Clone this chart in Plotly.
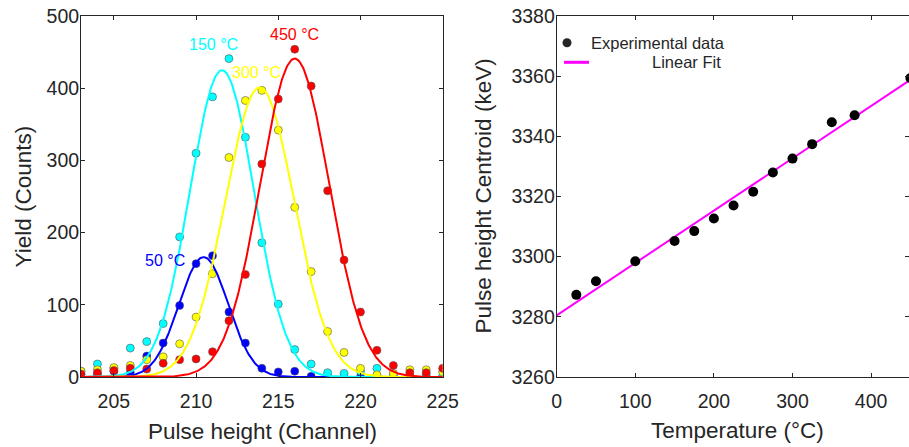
import numpy as np
import plotly.graph_objects as go

# ---------------- Left panel data ----------------
channels = list(range(203, 226))

counts_50C = [4, 4, 8, 6, 29, 47, 99, 157, 168, 90, 47, 12, 7, 8, 1, 1, 0, 0, 2, 1, 1, 0, 0]
counts_150C = [8, 18, 12, 40, 49, 74, 194, 310, 388, 441, 332, 186, 101, 38, 18, 6, 5, 8, 12, 4, 1, 3, 1]
counts_300C = [8, 10, 13, 16, 24, 28, 46, 83, 143, 304, 383, 397, 342, 235, 146, 63, 34, 12, 3, 5, 10, 10, 7]
counts_450C = [4, 6, 9, 12, 11, 19, 24, 25, 35, 78, 142, 295, 385, 454, 403, 258, 162, 90, 37, 16, 6, 6, 12]

# Gaussian fit parameters: (amplitude, centre, sigma)
fit_50C = (166, 210.46, 1.5)
fit_150C = (425, 211.58, 1.95)
fit_300C = (401, 213.87, 2.1)
fit_450C = (441, 216.0, 2.1)

series_labels = ["50 °C", "150 °C", "300 °C", "450 °C"]
series_colors = ["#0000FF", "#00FFFF", "#FFFF00", "#FF0000"]
label_pos_x = [208.1, 211.05, 213.7, 216.0]
label_pos_y = [162, 461, 422, 475]

# ---------------- Right panel data ----------------
temperature = [25, 50, 100, 150, 175, 200, 225, 250, 275, 300, 325, 350, 379, 450]
centroid = [3287.3, 3291.8, 3298.5, 3305.2, 3308.5, 3312.7, 3317.0, 3321.6,
            3328.0, 3332.6, 3337.4, 3344.7, 3347.0, 3359.4]
fit_intercept = 3280.5
fit_slope = 0.174

FONT = "Liberation Sans, Arial, sans-serif"
TXT = "#262626"

fig = go.Figure()

grid = np.linspace(203, 225, 400)
all_counts = [counts_50C, counts_150C, counts_300C, counts_450C]
all_fits = [fit_50C, fit_150C, fit_300C, fit_450C]

for cnt, col in zip(all_counts, series_colors):
    fig.add_trace(go.Scatter(
        x=channels, y=cnt, mode="markers",
        marker=dict(size=8, color=col, line=dict(color="#555555", width=0.6)),
        xaxis="x", yaxis="y", showlegend=False))
for fp, col in zip(all_fits, series_colors):
    a, mu, s = fp
    fig.add_trace(go.Scatter(
        x=grid, y=a * np.exp(-(grid - mu) ** 2 / (2 * s ** 2)), mode="lines",
        line=dict(color=col, width=2), xaxis="x", yaxis="y", showlegend=False))

# Right panel
tline = np.array([0, 460])
fig.add_trace(go.Scatter(
    x=tline, y=fit_intercept + fit_slope * tline, mode="lines",
    line=dict(color="#FF00FF", width=2), xaxis="x2", yaxis="y2", showlegend=False))
fig.add_trace(go.Scatter(
    x=temperature, y=centroid, mode="markers",
    marker=dict(size=10, color="#000000"), xaxis="x2", yaxis="y2", showlegend=False))

axis_common = dict(
    showgrid=False, zeroline=False, showline=True, linecolor=TXT, linewidth=1,
    mirror="ticks", ticks="inside", ticklen=4, tickcolor=TXT, tickwidth=1,
    tickfont=dict(family=FONT, size=19.5, color=TXT), automargin=False,
)

fig.update_layout(
    width=909, height=447,
    margin=dict(l=0, r=0, t=0, b=0, autoexpand=False),
    paper_bgcolor="white", plot_bgcolor="white",
    font=dict(family=FONT, color=TXT),
    xaxis=dict(domain=[0.0891, 0.4870], range=[203, 225],
               tickvals=[205, 210, 215, 220, 225], anchor="y",
               ticklabelstandoff=7, **axis_common),
    yaxis=dict(domain=[0.1566, 0.9642], range=[0, 500],
               tickvals=[0, 100, 200, 300, 400, 500], anchor="x",
               ticklabelstandoff=-3, **axis_common),
    xaxis2=dict(domain=[0.6124, 1.0], range=[0, 448.2],
                tickvals=[0, 100, 200, 300, 400], anchor="y2",
                ticklabelstandoff=7, **axis_common),
    yaxis2=dict(domain=[0.1566, 0.9642], range=[3260, 3380],
                tickvals=[3260, 3280, 3300, 3320, 3340, 3360, 3380], anchor="x2",
                ticklabelstandoff=-3, **axis_common),
)

annotations = []
for lab, col, lx, ly in zip(series_labels, series_colors, label_pos_x, label_pos_y):
    annotations.append(dict(x=lx, y=ly, xref="x", yref="y", text=lab, showarrow=False,
                            xanchor="center", yanchor="middle",
                            font=dict(family=FONT, size=16, color=col)))

title_font = dict(family=FONT, size=22.5, color=TXT)
common = dict(xref="paper", yref="paper", showarrow=False, yanchor="middle")
annotations += [
    dict(x=23 / 909, y=1 - 196.5 / 447, text="Yield (Counts)", textangle=-90,
         xanchor="center", font=title_font, **common),
    dict(x=483 / 909, y=1 - 196.5 / 447, text="Pulse height Centroid (keV)", textangle=-90,
         xanchor="center", font=title_font, **common),
    dict(x=262 / 909, y=1 - 431 / 447, text="Pulse height (Channel)",
         xanchor="center", font=title_font, **common),
    dict(x=737 / 909, y=1 - 430 / 447, text="Temperature (°C)",
         xanchor="center", font=title_font, **common),
    # legend texts
    dict(x=589 / 909, y=1 - 43 / 447, text="Experimental data", xanchor="left",
         font=dict(family=FONT, size=16.5, color=TXT), **common),
    dict(x=723 / 909, y=1 - 62 / 447, text="Linear Fit", xanchor="right",
         font=dict(family=FONT, size=16.5, color=TXT), **common),
]
fig.update_layout(annotations=annotations)

# legend symbols
fig.update_layout(shapes=[
    dict(type="circle", xref="paper", yref="paper",
         x0=(567 - 4.5) / 909, x1=(567 + 4.5) / 909,
         y0=1 - (42.7 + 4.5) / 447, y1=1 - (42.7 - 4.5) / 447,
         fillcolor="#262626", line=dict(color="#262626", width=0)),
    dict(type="line", xref="paper", yref="paper",
         x0=564 / 909, x1=589 / 909, y0=1 - 62.3 / 447, y1=1 - 62.3 / 447,
         line=dict(color="#FF00FF", width=3)),
])

fig.write_html(
    "out.html",
    config={"displayModeBar": False},
    post_script="document.body.style.margin='0';document.body.style.overflow='hidden';",
)
